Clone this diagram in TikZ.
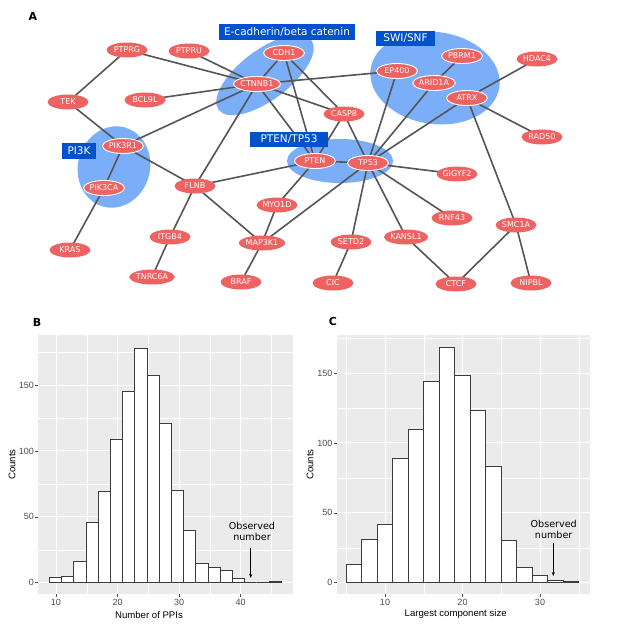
\documentclass[tikz,border=0pt]{standalone}
\usepackage{fontspec}
\setmainfont{DejaVu Sans}
\newfontfamily\dejavu{DejaVu Sans}
\newfontfamily\libsans{Liberation Sans}
\usetikzlibrary{shapes.geometric,arrows.meta}
\definecolor{nodered}{RGB}{238,98,98}
\definecolor{grpblue}{RGB}{122,174,248}
\definecolor{lblblue}{RGB}{0,82,204}
\definecolor{edgegrey}{RGB}{85,85,85}
\definecolor{panelgrey}{RGB}{235,235,235}
\definecolor{tickgrey}{RGB}{77,77,77}
\definecolor{bargrey}{RGB}{60,60,60}
\pgfdeclarelayer{bg}
\pgfdeclarelayer{edges}
\pgfsetlayers{bg,edges,main}
\tikzset{
  gene/.style={ellipse, fill=nodered, text=white, minimum width=41pt, minimum height=15pt, inner sep=0pt, font=\dejavu\fontsize{8}{8}\selectfont},
  ingrp/.style={gene, draw=white, line width=0.9pt},
  edge/.style={draw=edgegrey, line width=1.6pt},
  grplabel/.style={fill=lblblue, text=white, inner sep=0pt, minimum height=15.5pt, font=\dejavu\fontsize{10.5}{11}\selectfont},
  grp/.style={fill=grpblue},
  bar/.style={draw=bargrey, fill=white, line width=0.7pt},
  majgrid/.style={draw=white, line width=0.9pt},
  mingrid/.style={draw=white, line width=0.45pt},
  ticklab/.style={text=tickgrey, font=\libsans\fontsize{9}{10}\selectfont, inner sep=0pt},
  axtitle/.style={text=black, font=\libsans\fontsize{9.6}{10}\selectfont, inner sep=0pt},
  tick/.style={draw=tickgrey, line width=0.6pt},
  panlab/.style={font=\dejavu\bfseries\fontsize{11}{12}\selectfont, inner sep=0pt},
  obs/.style={font=\dejavu\fontsize{9.6}{11.5}\selectfont, align=center, inner sep=0pt},
  obsarrow/.style={draw=black, line width=0.6pt, -{Stealth[length=4pt,width=3pt]}}
}
\begin{document}
\begin{tikzpicture}[x=1pt,y=-1pt]
\useasboundingbox (0,0) rectangle (617,638);

% ---------------- Panel A ----------------
\node[panlab] (labA) at (33,16) {A};

\begin{pgfonlayer}{bg}
\fill[white] (0,0) rectangle (617,638);
\fill[grp, rotate around={37:(265,75)}] (265,75) ellipse [x radius=58, y radius=25];
\fill[grp, rotate around={-8:(435,78)}] (435,78) ellipse [x radius=65, y radius=46];
\fill[grp, rotate around={75:(114,167)}] (114,167) ellipse [x radius=41, y radius=36];
\fill[grp] (340,161) ellipse [x radius=53, y radius=22];
\end{pgfonlayer}

\node[grplabel, minimum width=136pt] (lblEcad) at (287,32) {E-cadherin/beta catenin};
\node[grplabel, minimum width=59pt] (lblSWI) at (405.5,38.5) {SWI/SNF};
\node[grplabel, minimum width=78pt] (lblPTEN) at (289,139.5) {PTEN/TP53};
\node[grplabel, minimum width=34pt] (lblPI3K) at (79,151) {PI3K};

\node[gene] (PTPRG) at (127,50) {PTPRG};
\node[gene] (PTPRU) at (189,51) {PTPRU};
\node[ingrp] (CDH1) at (284,53) {CDH1};
\node[ingrp] (CTNNB1) at (257,84) {CTNNB1};
\node[gene] (TEK) at (68,102) {TEK};
\node[gene] (BCL9L) at (145,100) {BCL9L};
\node[ingrp] (PIK3R1) at (123,146) {PIK3R1};
\node[ingrp] (EP400) at (397,71) {EP400};
\node[ingrp] (PBRM1) at (462,56) {PBRM1};
\node[ingrp] (ARID1A) at (434,83) {ARID1A};
\node[ingrp] (ATRX) at (467,98) {ATRX};
\node[gene] (HDAC4) at (537,59) {HDAC4};
\node[gene] (CASP8) at (344,114) {CASP8};
\node[gene] (RAD50) at (542,137) {RAD50};
\node[ingrp] (PIK3CA) at (104,188) {PIK3CA};
\node[gene] (FLNB) at (195,186) {FLNB};
\node[gene] (MYO1D) at (277,205) {MYO1D};
\node[gene] (ITGB4) at (170,237) {ITGB4};
\node[gene] (MAP3K1) at (262,243) {MAP3K1};
\node[gene] (KRAS) at (70,250) {KRAS};
\node[gene] (TNRC6A) at (152,277) {TNRC6A};
\node[gene] (BRAF) at (241,282) {BRAF};
\node[ingrp] (PTEN) at (315,161) {PTEN};
\node[ingrp] (TP53) at (368,163) {TP53};
\node[gene] (GIGYF2) at (457,174) {GIGYF2};
\node[gene] (RNF43) at (452,218) {RNF43};
\node[gene] (SMC1A) at (516,225) {SMC1A};
\node[gene] (SETD2) at (351,242) {SETD2};
\node[gene] (KANSL1) at (406,237) {KANSL1};
\node[gene] (CIC) at (333,283) {CIC};
\node[gene] (CTCF) at (456,284) {CTCF};
\node[gene] (NIPBL) at (531,283) {NIPBL};

\begin{pgfonlayer}{edges}
\foreach \a/\b in {PTPRG/TEK, PTPRG/CTNNB1, PTPRU/CTNNB1, BCL9L/CTNNB1, TEK/PIK3R1,
  PIK3R1/CTNNB1, PIK3R1/PIK3CA, PIK3R1/FLNB, PIK3CA/KRAS, CTNNB1/CDH1, CTNNB1/EP400,
  CTNNB1/CASP8, CTNNB1/PTEN, CTNNB1/FLNB, CDH1/PTEN, CDH1/CASP8, CASP8/PTEN, CASP8/TP53,
  EP400/TP53, ARID1A/PBRM1, ARID1A/TP53, ATRX/TP53, ATRX/HDAC4, ATRX/RAD50, ATRX/SMC1A,
  PTEN/TP53, PTEN/FLNB, PTEN/MYO1D, TP53/MAP3K1, TP53/GIGYF2, TP53/RNF43, TP53/SETD2,
  TP53/KANSL1, FLNB/ITGB4, FLNB/MAP3K1, MYO1D/MAP3K1, ITGB4/TNRC6A, MAP3K1/BRAF,
  SETD2/CIC, KANSL1/CTCF, SMC1A/CTCF, SMC1A/NIPBL}
  \draw[edge] (\a.center) -- (\b.center);
\end{pgfonlayer}

% ---------------- Panel B ----------------
\node[panlab] (labB) at (37,322) {B};
\fill[panelgrey] (38,335) rectangle (293,594);
\foreach \v in {86.8,148.3,209.9,271.5} \draw[mingrid] (\v,335) -- (\v,594);
\foreach \v in {549.75,483.85,417.95,352.05} \draw[mingrid] (38,\v) -- (293,\v);
\foreach \v in {56,117.56,179.12,240.68} \draw[majgrid] (\v,335) -- (\v,594);
\foreach \v in {582.7,516.8,450.9,385.0} \draw[majgrid] (38,\v) -- (293,\v);
\foreach \h [count=\i from 0] in {4,5,16,46,69,109,145,178,157,121,70,40,15,12,9,3,0,0,1}
  \draw[bar] ({49.3+\i*12.2},582.7) rectangle ({49.3+(\i+1)*12.2},{582.7-\h*1.318});
\foreach \v/\t in {582.7/0,516.8/50,450.9/100,385.0/150} {
  \draw[tick] (35,\v) -- (38,\v);
  \node[ticklab, anchor=east] at (34,\v) {\t};
}
\foreach \v/\t in {56/10,117.56/20,179.12/30,240.68/40} {
  \draw[tick] (\v,594) -- (\v,597);
  \node[ticklab, anchor=north] at (\v,599) {\t};
}
\node[axtitle] (xtB) at (149,615) {Number of PPIs};
\node[axtitle, rotate=90] (ytB) at (12,464.5) {Counts};
\node[obs] (obsB) at (252,531.5) {Observed\\number};
\coordinate (obsBtip) at (250.7,578);
\draw[obsarrow] (250.7,548) -- (obsBtip);

% ---------------- Panel C ----------------
\node[panlab] (labC) at (333,321) {C};
\fill[panelgrey] (337,335) rectangle (590,594);
\foreach \v in {346.25,423.75,501.25,578.75} \draw[mingrid] (\v,335) -- (\v,594);
\foreach \v in {547.75,477.85,407.95,338.05} \draw[mingrid] (337,\v) -- (590,\v);
\foreach \v in {385,462.5,540} \draw[majgrid] (\v,335) -- (\v,594);
\foreach \v in {582.7,512.8,442.9,373.0} \draw[majgrid] (337,\v) -- (590,\v);
\foreach \h [count=\i from 0] in {13,31,42,89,110,144,168,148,123,83,30,11,5,2,1}
  \draw[bar] ({346.25+\i*15.5},582.7) rectangle ({346.25+(\i+1)*15.5},{582.7-\h*1.398});
\foreach \v/\t in {582.7/0,512.8/50,442.9/100,373.0/150} {
  \draw[tick] (334,\v) -- (337,\v);
  \node[ticklab, anchor=east] at (332.5,\v) {\t};
}
\foreach \v/\t in {385/10,462.5/20,540/30} {
  \draw[tick] (\v,594) -- (\v,597);
  \node[ticklab, anchor=north] at (\v,599) {\t};
}
\node[axtitle] (xtC) at (455.7,614) {Largest component size};
\node[axtitle, rotate=90] (ytC) at (310,464.5) {Counts};
\node[obs] (obsC) at (553.7,529.5) {Observed\\number};
\coordinate (obsCtip) at (553.3,576);
\draw[obsarrow] (553.3,543) -- (obsCtip);
\end{tikzpicture}
\end{document}
